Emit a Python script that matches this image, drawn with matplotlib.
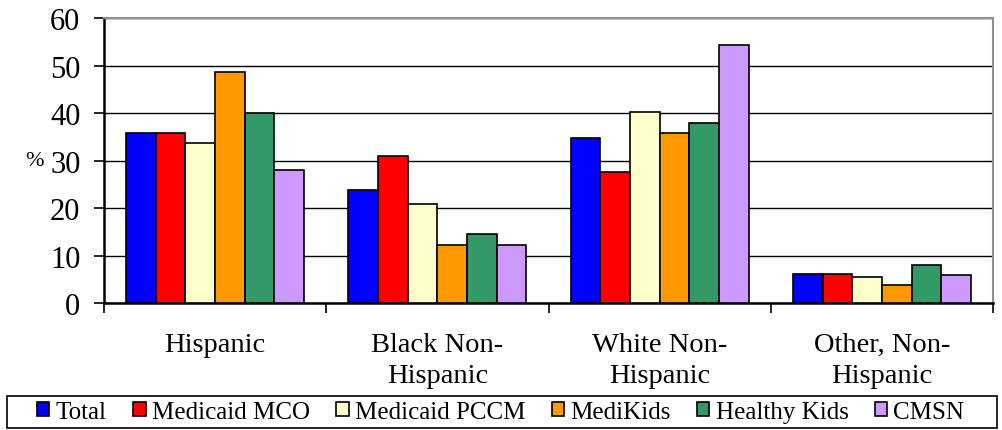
import numpy as np
import matplotlib
matplotlib.use("Agg")
import matplotlib.pyplot as plt
from matplotlib.patches import Rectangle

plt.rcParams["font.family"] = ["Liberation Serif", "DejaVu Serif"]

# Percent of enrollees by race/ethnicity, per program
groups = ["Hispanic", "Black Non-\nHispanic", "White Non-\nHispanic", "Other, Non-\nHispanic"]
programs = ["Total", "Medicaid MCO", "Medicaid PCCM", "MediKids", "Healthy Kids", "CMSN"]
colors = ["#0000FF", "#FF0000", "#FFFFCC", "#FF9900", "#339966", "#CC99FF"]

total = [35.8, 23.8, 34.8, 6.2]
medicaid_mco = [35.8, 31.0, 27.6, 6.2]
medicaid_pccm = [33.7, 20.9, 40.2, 5.5]
medikids = [48.7, 12.3, 35.8, 3.8]
healthy_kids = [40.0, 14.5, 37.8, 7.9]
cmsn = [28.1, 12.3, 54.4, 5.8]

series = [total, medicaid_mco, medicaid_pccm, medikids, healthy_kids, cmsn]

W, H = 1003, 431
fig = plt.figure(figsize=(W / 100, H / 100), dpi=100)
ax = fig.add_axes([104 / W, 127 / H, 889 / W, 285 / H])

x = np.arange(len(groups))
w = 0.8 / len(programs)
for i, (vals, name, col) in enumerate(zip(series, programs, colors)):
    ax.bar(x - 0.4 + w * (i + 0.5), vals, width=w, color=col,
           edgecolor="black", linewidth=1.2, label=name, zorder=3)

ax.set_ylim(0, 60)
ax.set_yticks(range(0, 61, 10))
ax.set_xlim(-0.5, 3.5)
ax.grid(axis="y", color="black", linewidth=1, zorder=0)

# category labels in the middle, tick marks on the group boundaries
ax.set_xticks(x)
ax.set_xticklabels(groups, fontsize=20.5, linespacing=1.3)
ax.tick_params(axis="x", which="major", length=0, pad=21)
ax.set_xticks(np.arange(-0.5, 4.0, 1.0), minor=True)
ax.tick_params(axis="x", which="minor", length=7, width=1.2, direction="out")
ax.tick_params(axis="y", length=7, width=1.2, direction="out", pad=10, labelsize=22)

# "%" sits just left of the 30 tick label
ax.set_ylabel("%", rotation=0, fontsize=16, va="center", ha="right")
ax.yaxis.set_label_coords((44 - 104) / 889, 0.5)

for s in ["left", "bottom"]:
    ax.spines[s].set_color("black")
    ax.spines[s].set_linewidth(1.8)
for s in ["top", "right"]:
    ax.spines[s].set_color("#909090")
    ax.spines[s].set_linewidth(1.5)

# legend row with its own box across the bottom
fig.patches.append(Rectangle((7 / W, 2 / H), 990 / W, 32 / H, transform=fig.transFigure,
                             fill=False, edgecolor="black", linewidth=1.2))
leg = fig.legend(loc="center left", bbox_to_anchor=(37 / W, 18 / H), ncol=6, fontsize=18,
                 frameon=False, handlelength=0.5, handleheight=0.5, handletextpad=0.25,
                 columnspacing=1.05, borderaxespad=0, borderpad=0)

fig.savefig("out.png", dpi=100)
